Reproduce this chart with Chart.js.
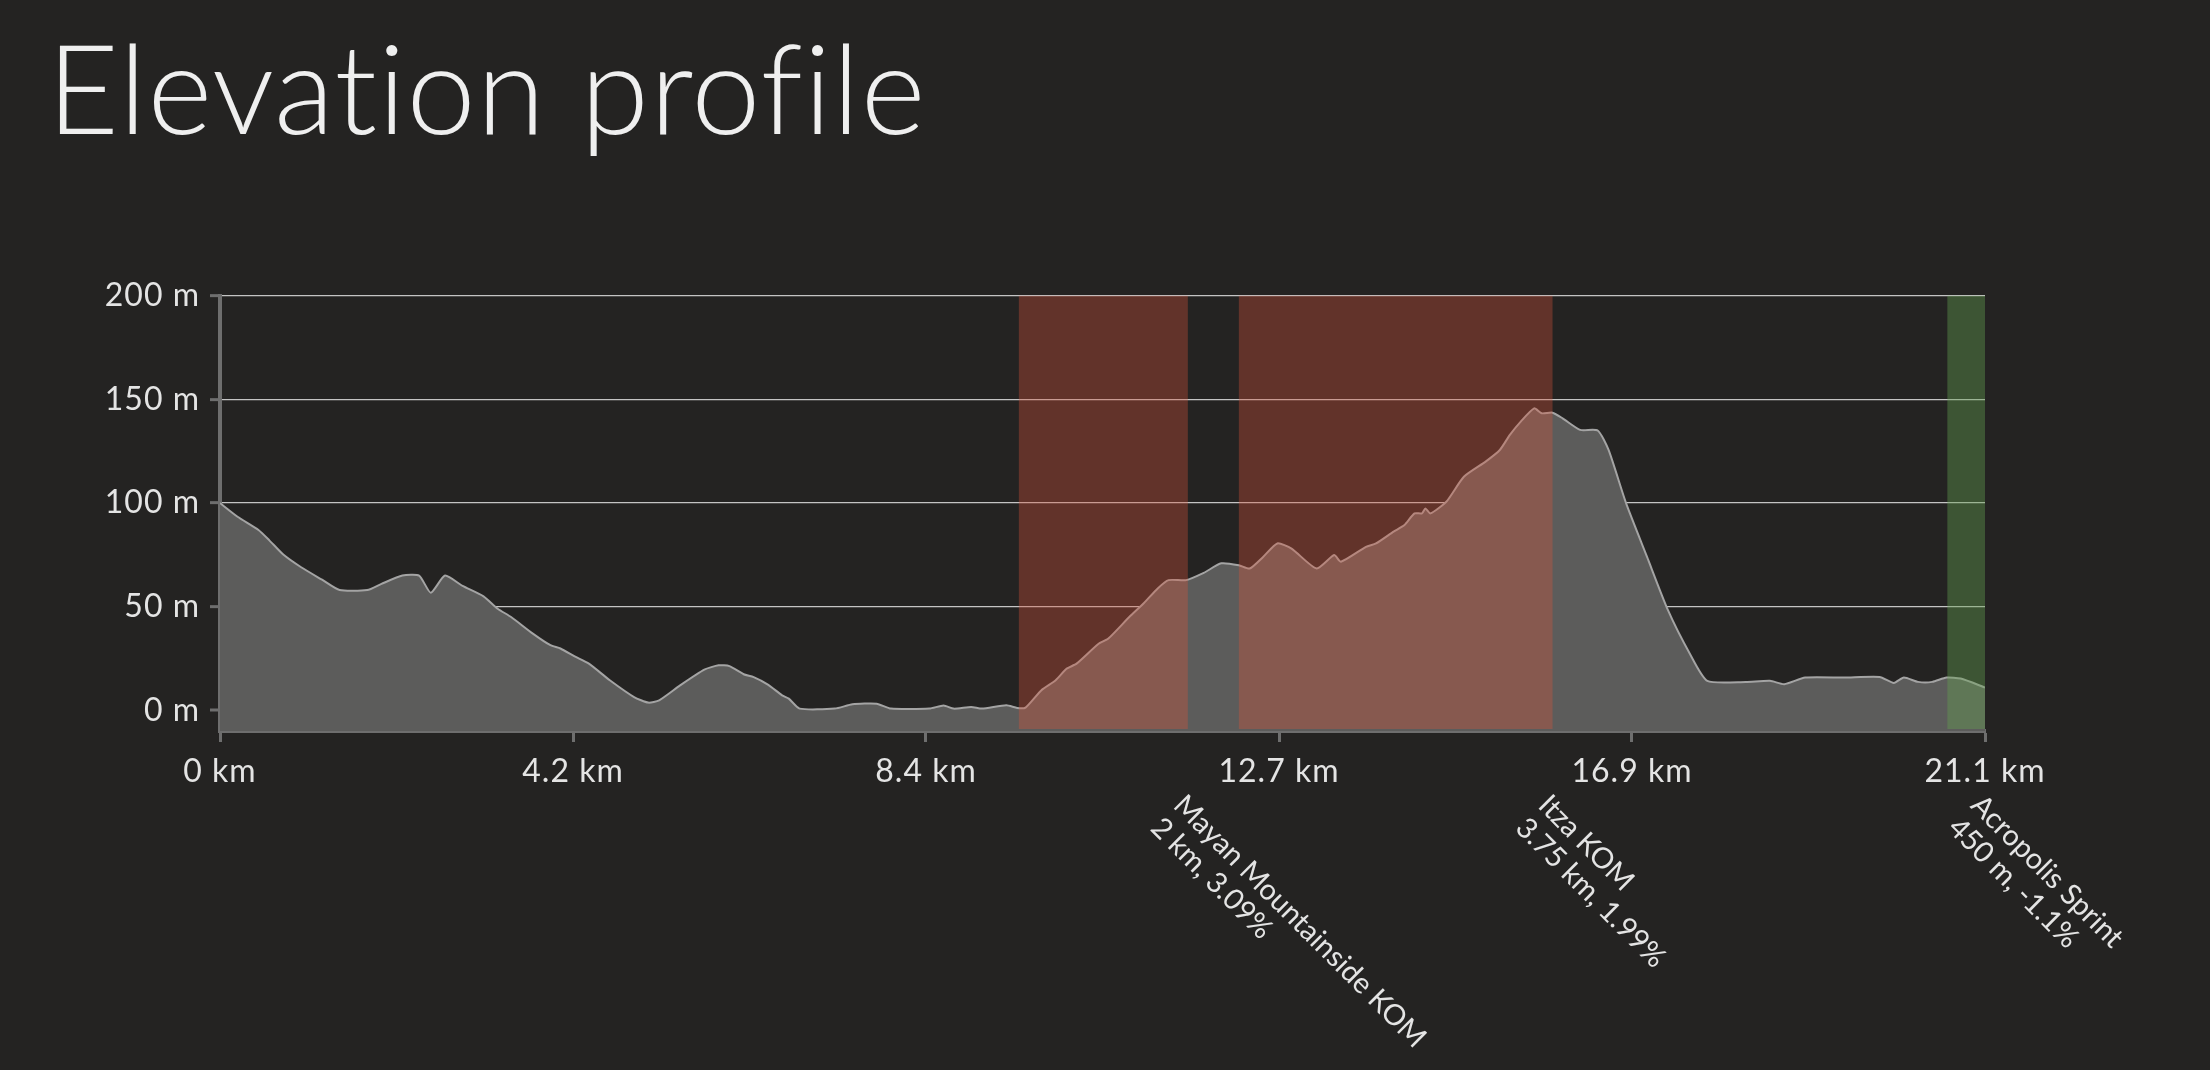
<!DOCTYPE html>
<html>
<head>
<meta charset="utf-8">
<title>Elevation profile</title>
<script src="https://cdn.jsdelivr.net/npm/chart.js@4.4.1/dist/chart.umd.min.js"></script>
<style>
  html, body { margin: 0; padding: 0; background: #242322; overflow: hidden; }
  #wrap { width: 2210px; height: 1070px; position: relative; }
</style>
</head>
<body>
<div id="wrap"><canvas id="c"></canvas></div>
<script>
// ---- data ----
const distanceKm = [0, 0.21, 0.46, 0.59, 0.76, 0.97, 1.22, 1.43, 1.76, 1.93, 2.18, 2.38, 2.52, 2.69, 2.90, 3.15, 3.32, 3.48, 3.74, 3.95, 4.07, 4.24, 4.41, 4.66, 4.95, 5.12, 5.25, 5.50, 5.79, 5.96, 6.09, 6.26, 6.38, 6.55, 6.72, 6.80, 6.93, 7.35, 7.56, 7.85, 8.02, 8.48, 8.65, 8.77, 8.98, 9.11, 9.40, 9.53, 9.63, 9.82, 9.99, 10.12, 10.24, 10.50, 10.62, 10.87, 11.04, 11.21, 11.34, 11.55, 11.76, 11.97, 12.18, 12.31, 12.47, 12.64, 12.81, 13.11, 13.32, 13.40, 13.70, 13.82, 14.03, 14.16, 14.28, 14.37, 14.41, 14.47, 14.66, 14.87, 15.13, 15.30, 15.42, 15.55, 15.71, 15.80, 15.93, 16.05, 16.26, 16.47, 16.60, 16.81, 17.06, 17.31, 17.57, 17.78, 18.24, 18.53, 18.70, 18.95, 19.42, 19.84, 20.01, 20.13, 20.30, 20.47, 20.64, 20.81, 21.10];
const elevationM = [100, 93.4, 87, 82, 75, 69, 63, 58, 58, 61, 65, 65, 56.7, 65, 60, 55, 49, 45, 37, 31.4, 29.8, 26, 22.5, 14.5, 6.4, 3.7, 4.8, 12, 19.6, 21.7, 21.3, 17.4, 16, 12.4, 7.2, 5.6, 0.8, 0.8, 2.9, 3.2, 0.8, 0.8, 2.3, 0.8, 1.6, 0.8, 2.4, 1.1, 1.3, 9.7, 14.5, 20, 22.5, 32, 34.6, 45, 51.5, 58.8, 62.8, 62.8, 66.3, 70.9, 70, 68.4, 74, 80.5, 78, 68.4, 74.9, 71.7, 78.9, 80.5, 86.2, 89.4, 95, 95, 97.4, 95, 100.6, 112.7, 120, 125.6, 132.9, 139.3, 145.7, 143.3, 143.6, 140.9, 135.3, 135, 125.6, 99.8, 74, 48.3, 27.4, 14.2, 13.7, 14.2, 12.6, 15.8, 15.8, 16.1, 13.2, 15.8, 13.7, 13.7, 15.8, 15.3, 11];

const xTickValues = [0, 4.22, 8.44, 12.66, 16.88, 21.1];
const xTickLabels = ['0 km', '4.2 km', '8.4 km', '12.7 km', '16.9 km', '21.1 km'];
const yTickValues = [0, 50, 100, 150, 200];
const yTickLabels = ['0 m', '50 m', '100 m', '150 m', '200 m'];

const segmentNames = ['Mayan Mountainside KOM', 'Itza KOM', 'Acropolis Sprint'];
const segmentInfo = ['2 km, 3.09%', '3.75 km, 1.99%', '450 m, -1.1%'];
const segmentStartKm = [9.55, 12.18, 20.65];
const segmentEndKm = [11.57, 15.93, 21.1];
const segmentKind = ['climb', 'climb', 'sprint'];

// ---- styles ----
const BAND_COLORS = { climb: 'rgba(215,82,58,0.35)', sprint: 'rgba(99,160,80,0.40)' };
const TEXT_COLOR = '#e4e4e4';
const AXIS_COLOR = '#6e6e6e';
const FONT = 'Lato';

const segmentPlugin = {
  id: 'segments',
  afterDraw(chart) {
    const { ctx, chartArea: a, scales: { x } } = chart;
    ctx.save();
    ctx.letterSpacing = '0px';
    for (let i = 0; i < segmentNames.length; i++) {
      const x0 = x.getPixelForValue(segmentStartKm[i]);
      const x1 = x.getPixelForValue(segmentEndKm[i]);
      ctx.fillStyle = BAND_COLORS[segmentKind[i]];
      ctx.fillRect(x0, a.top, x1 - x0, a.bottom - a.top - 2);
    }
    ctx.fillStyle = TEXT_COLOR;
    ctx.font = '29px ' + FONT;
    ctx.textAlign = 'left';
    ctx.textBaseline = 'alphabetic';
    for (let i = 0; i < segmentNames.length; i++) {
      const x1 = x.getPixelForValue(segmentEndKm[i]);
      ctx.save();
      ctx.translate(x1 - 1, a.bottom + 61);
      ctx.rotate(Math.PI / 4);
      ctx.fillText(segmentNames[i], 0, 21);
      ctx.fillText(segmentInfo[i], 0, 21 + 32);
      ctx.restore();
    }
    ctx.restore();
  }
};

const bgPlugin = {
  id: 'bg',
  beforeDraw(chart) {
    const { ctx, width, height } = chart;
    ctx.fillStyle = '#242322';
    ctx.fillRect(0, 0, width, height);
    // slight tracking (also avoids the Lato "ti" ligature in the title)
    ctx.letterSpacing = '1px';
  },
  afterDraw(chart) {
    chart.ctx.letterSpacing = '0px';
  }
};

new Chart(document.getElementById('c'), {
  type: 'line',
  data: {
    datasets: [{
      label: 'Elevation',
      data: distanceKm.map((d, i) => ({ x: d, y: elevationM[i] })),
      borderColor: '#a4a4a4',
      borderWidth: 2,
      backgroundColor: '#5c5c5b',
      fill: 'start',
      pointRadius: 0,
      tension: 0.2
    }]
  },
  options: {
    responsive: true,
    maintainAspectRatio: false,
    devicePixelRatio: 1,
    animation: false,
    layout: { padding: { left: 47, right: 225, top: 0, bottom: 0 } },
    plugins: {
      legend: { display: false },
      tooltip: { enabled: false },
      title: {
        display: true,
        text: 'Elevation profile',
        align: 'start',
        color: '#efefef',
        font: { family: FONT, size: 124, weight: 300, lineHeight: 1.2 },
        padding: { top: 20, bottom: 127 }
      }
    },
    scales: {
      x: {
        type: 'linear',
        min: 0,
        max: 21.1,
        afterBuildTicks: (s) => { s.ticks = xTickValues.map(v => ({ value: v })); },
        afterFit: (s) => { s.height = 339; },
        ticks: {
          callback: (v, i) => xTickLabels[i],
          color: TEXT_COLOR,
          font: { family: FONT, size: 32 },
          padding: 10,
          maxRotation: 0,
          autoSkip: false
        },
        grid: { drawOnChartArea: false, drawTicks: true, tickLength: 11, tickColor: AXIS_COLOR, tickWidth: 3 },
        border: { color: AXIS_COLOR, width: 4 }
      },
      y: {
        type: 'linear',
        min: -10,
        max: 200,
        z: 1,
        afterBuildTicks: (s) => { s.ticks = yTickValues.map(v => ({ value: v })); },
        afterFit: (s) => { s.width = 173; },
        ticks: {
          callback: (v, i) => yTickLabels[i],
          color: TEXT_COLOR,
          font: { family: FONT, size: 32 },
          padding: 10
        },
        grid: {
          color: (c) => (c.tick && c.tick.value === 0) ? '#8a8a8a' : '#c4c4c4',
          lineWidth: (c) => (c.tick && c.tick.value === 0) ? 2 : 1.3,
          tickLength: 10,
          tickColor: AXIS_COLOR,
          tickWidth: 3
        },
        border: { color: AXIS_COLOR, width: 4 }
      }
    }
  },
  plugins: [bgPlugin, segmentPlugin]
});
</script>
</body>
</html>
